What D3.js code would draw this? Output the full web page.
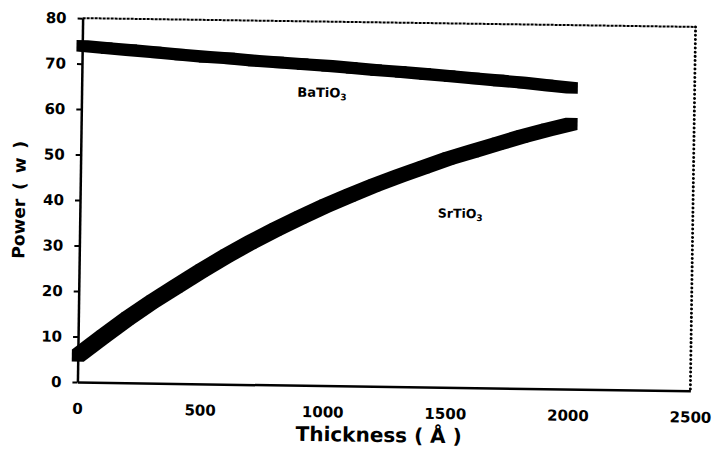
<!DOCTYPE html>
<html>
<head>
<meta charset="utf-8">
<script src="https://cdn.jsdelivr.net/npm/d3@7"></script>
<style>
  body { margin: 0; background: #fff; }
  svg { display: block; }
  text { font-family: "DejaVu Sans", sans-serif; font-weight: bold; fill: #000; }
</style>
</head>
<body>
<svg id="chart" width="712" height="465"></svg>
<script>
// Film thickness (Å) and output power (w) for the two dielectric layers
const thickness = [0, 100, 200, 300, 400, 500, 600, 700, 800, 900, 1000,
                   1100, 1200, 1300, 1400, 1500, 1600, 1700, 1800, 1900, 2000];
const batio3 = [73.9, 73.5, 73.1, 72.7, 72.3, 71.9, 71.6, 71.2, 70.9, 70.6, 70.3,
                69.9, 69.5, 69.2, 68.8, 68.4, 68.0, 67.6, 67.2, 66.7, 66.2];
const srtio3 = [5.8, 10.0, 14.1, 17.9, 21.4, 24.9, 28.2, 31.3, 34.2, 36.9, 39.5,
                41.9, 44.2, 46.3, 48.3, 50.3, 52.0, 53.7, 55.4, 56.9, 58.3];
const xTicks = [0, 500, 1000, 1500, 2000, 2500];
const yTicks = [0, 10, 20, 30, 40, 50, 60, 70, 80];

const plot = { left: 80, right: 693, top: 22.5, bottom: 386.5 };
const cx = (plot.left + plot.right) / 2, cy = (plot.top + plot.bottom) / 2;

const x = d3.scaleLinear().domain([0, 2500]).range([plot.left, plot.right]);
const y = d3.scaleLinear().domain([0, 80]).range([plot.bottom, plot.top]);

const svg = d3.select("#chart");
// the whole sheet sits slightly skewed on the page
const g = svg.append("g").attr("transform", `rotate(0.82 ${cx} ${cy})`);

// frame: dashed top edge, dotted right edge
g.append("line")
  .attr("x1", x(0)).attr("x2", x(2500)).attr("y1", y(80)).attr("y2", y(80))
  .attr("stroke", "#000").attr("stroke-width", 2).attr("stroke-dasharray", "3 1");
g.append("line")
  .attr("x1", x(2500)).attr("x2", x(2500)).attr("y1", y(80)).attr("y2", y(0))
  .attr("stroke", "#000").attr("stroke-width", 3)
  .attr("stroke-linecap", "round").attr("stroke-dasharray", "0.01 4.2");

const fmt = d3.format("d");

// y axis
const yAxis = g.append("g").attr("transform", `translate(${x(0)},0)`)
  .call(d3.axisLeft(y).tickValues(yTicks).tickFormat(fmt).tickSize(5).tickSizeOuter(0).tickPadding(11));
yAxis.select(".domain").attr("stroke-width", 2.5);
yAxis.selectAll(".tick line").attr("stroke-width", 2);
yAxis.selectAll(".tick text").attr("font-size", 15).attr("font-family", "DejaVu Sans").attr("font-weight", "bold");

// x axis
const xAxis = g.append("g").attr("transform", `translate(0,${y(0)})`)
  .call(d3.axisBottom(x).tickValues(xTicks).tickFormat(fmt).tickSize(0).tickSizeOuter(0).tickPadding(21));
xAxis.select(".domain").attr("stroke-width", 2.5);
xAxis.selectAll(".tick text").attr("font-size", 15).attr("font-family", "DejaVu Sans").attr("font-weight", "bold");

// each series: square markers swept along the polyline through its points
function bandPieces(values, size) {
  const pts = thickness.map((t, i) => [x(t), y(values[i])]);
  const h = size / 2;
  const pieces = [];
  for (let i = 0; i < pts.length - 1; i++) {
    const corners = [];
    [pts[i], pts[i + 1]].forEach(([px, py]) => {
      corners.push([px - h, py - h], [px + h, py - h], [px + h, py + h], [px - h, py + h]);
    });
    pieces.push(d3.polygonHull(corners));
  }
  return pieces;
}

[[batio3, 11.5], [srtio3, 12]].forEach(([values, size]) => {
  g.append("g").selectAll("path")
    .data(bandPieces(values, size))
    .join("path")
    .attr("d", d => "M" + d.join("L") + "Z")
    .attr("fill", "#000");
});

// series labels
const lab1 = g.append("text").attr("x", x(880)).attr("y", y(63.4)).attr("font-size", 13);
lab1.append("tspan").text("BaTiO");
lab1.append("tspan").attr("font-size", 9).attr("dy", 3).text("3");
const lab2 = g.append("text").attr("x", x(1460)).attr("y", y(37.3)).attr("font-size", 12.5);
lab2.append("tspan").text("SrTiO");
lab2.append("tspan").attr("font-size", 9).attr("dy", 3).text("3");

// axis titles
g.append("text")
  .attr("x", 382).attr("y", 442)
  .attr("text-anchor", "middle").attr("font-size", 20)
  .text("Thickness ( Å )");
g.append("text")
  .attr("transform", "translate(25,205) rotate(-90)")
  .attr("text-anchor", "middle").attr("font-size", 17).attr("word-spacing", 3)
  .text("Power ( w )");
</script>
</body>
</html>
